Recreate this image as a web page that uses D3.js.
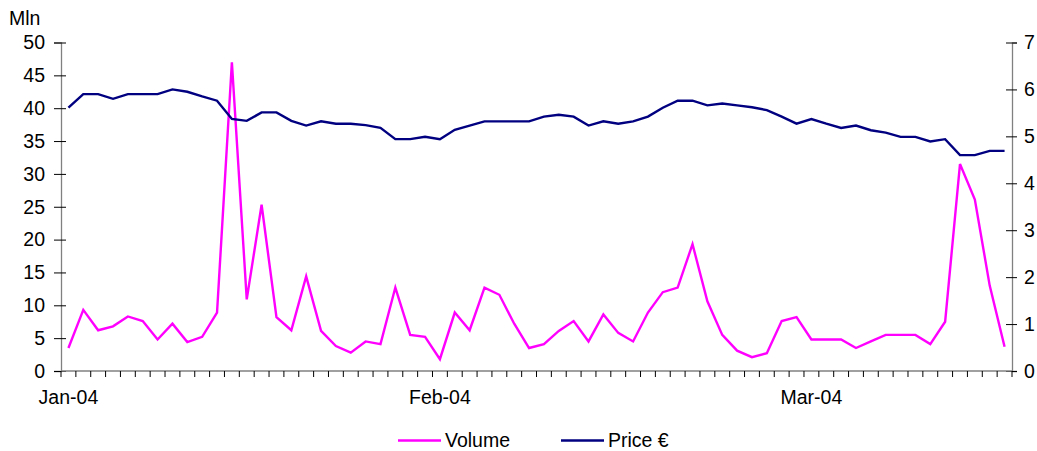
<!DOCTYPE html>
<html>
<head>
<meta charset="utf-8">
<script src="https://cdn.jsdelivr.net/npm/d3@7/dist/d3.min.js"></script>
<style>
  html, body { margin: 0; padding: 0; background: #fff; }
  svg { display: block; font-family: "Liberation Sans", Arial, sans-serif; }
</style>
</head>
<body>
<svg id="chart" width="1037" height="451"></svg>
<script>
// Daily trading volume (Mln shares), Jan–Mar 2004
const volume = [
  3.5, 9.3, 6.2, 6.8, 8.3, 7.6, 4.8, 7.2, 4.4, 5.2,
  8.9, 47.0, 10.9, 25.3, 8.2, 6.2, 14.4, 6.1, 3.8, 2.8,
  4.5, 4.1, 12.7, 5.5, 5.2, 1.8, 8.9, 6.2, 12.7, 11.6,
  7.2, 3.5, 4.1, 6.1, 7.6, 4.5, 8.6, 5.8, 4.5, 8.9,
  12.0, 12.7, 19.3, 10.6, 5.5, 3.1, 2.1, 2.7, 7.6, 8.2,
  4.8, 4.8, 4.8, 3.5, 4.5, 5.5, 5.5, 5.5, 4.1, 7.5,
  31.5, 26.1, 13.0, 3.7
];

// Closing price (€)
const price = [
  5.61, 5.90, 5.90, 5.80, 5.90, 5.90, 5.90, 6.00, 5.95, 5.85,
  5.76, 5.37, 5.33, 5.51, 5.51, 5.33, 5.23, 5.32, 5.27, 5.27,
  5.24, 5.18, 4.94, 4.94, 4.99, 4.94, 5.14, 5.23, 5.32, 5.32,
  5.32, 5.32, 5.42, 5.46, 5.42, 5.23, 5.32, 5.27, 5.32, 5.42,
  5.61, 5.76, 5.76, 5.66, 5.70, 5.66, 5.62, 5.56, 5.42, 5.27,
  5.37, 5.27, 5.18, 5.23, 5.13, 5.08, 4.99, 4.99, 4.89, 4.94,
  4.60, 4.60, 4.69, 4.69
];

// Month labels and the trading-day index each one sits on
const monthLabels = ["Jan-04", "Feb-04", "Mar-04"];
const monthIndex = [0, 25, 50];

const leftTicks = [0, 5, 10, 15, 20, 25, 30, 35, 40, 45, 50];
const rightTicks = [0, 1, 2, 3, 4, 5, 6, 7];

const seriesNames = ["Volume", "Price €"];
const seriesColors = ["#FF00FF", "#000080"];

const svg = d3.select("#chart");
const plot = { left: 61, right: 1012, top: 42.5, bottom: 371 };
const fontSize = 19.5;
const fontFamily = "Liberation Sans, Arial, sans-serif";
const intFmt = d3.format("d");

const x = d3.scaleBand()
  .domain(d3.range(volume.length))
  .range([plot.left, plot.right])
  .paddingInner(0).paddingOuter(0);

const yL = d3.scaleLinear().domain([0, 50]).range([plot.bottom, plot.top]);
const yR = d3.scaleLinear().domain([0, 7]).range([plot.bottom, plot.top]);

const axisColor = "#808080";

// Left value axis
const gL = svg.append("g").attr("transform", `translate(${plot.left},0)`)
  .call(d3.axisLeft(yL).tickValues(leftTicks).tickFormat(intFmt)
    .tickSize(7).tickPadding(9));
gL.select(".domain").attr("stroke", axisColor).attr("stroke-width", 1.3);
gL.selectAll(".tick line").attr("stroke", "#000").attr("x2", -7)
  .clone().attr("x2", 5);
gL.selectAll(".tick text").attr("font-size", fontSize).attr("fill", "#000")
  .attr("font-family", fontFamily);

// Right value axis
const gR = svg.append("g").attr("transform", `translate(${plot.right},0)`)
  .call(d3.axisRight(yR).tickValues(rightTicks).tickFormat(intFmt)
    .tickSize(5).tickPadding(7));
gR.select(".domain").attr("stroke", axisColor).attr("stroke-width", 1.3);
gR.selectAll(".tick line").attr("stroke", "#000").clone().attr("x2", -6);
gR.selectAll(".tick text").attr("font-size", fontSize).attr("fill", "#000")
  .attr("font-family", fontFamily);

// Category axis: tick marks between trading days
const boundaries = x.domain().map(i => x(i)).concat([plot.right]);
svg.append("line")
  .attr("x1", plot.left).attr("x2", plot.right)
  .attr("y1", plot.bottom).attr("y2", plot.bottom)
  .attr("stroke", axisColor).attr("stroke-width", 1.3);
svg.append("g").selectAll("line").data(boundaries).join("line")
  .attr("x1", d => d).attr("x2", d => d)
  .attr("y1", plot.bottom).attr("y2", plot.bottom + 6)
  .attr("stroke", "#000").attr("stroke-width", 1);

svg.append("g").selectAll("text").data(monthLabels).join("text")
  .attr("x", (d, i) => x(monthIndex[i]) + x.bandwidth() / 2)
  .attr("y", 404)
  .attr("text-anchor", "middle")
  .attr("font-size", fontSize)
  .text(d => d);

// Unit label for the left axis
svg.append("text").attr("x", 9).attr("y", 25)
  .attr("font-size", fontSize).text("Mln");

const cx = i => x(i) + x.bandwidth() / 2;

// Volume line (left axis)
svg.append("path").datum(volume)
  .attr("fill", "none").attr("stroke", seriesColors[0])
  .attr("stroke-width", 2.4).attr("stroke-linejoin", "miter")
  .attr("d", d3.line().x((d, i) => cx(i)).y(d => yL(d)));

// Price line (right axis)
svg.append("path").datum(price)
  .attr("fill", "none").attr("stroke", seriesColors[1])
  .attr("stroke-width", 2.4).attr("stroke-linejoin", "miter")
  .attr("d", d3.line().x((d, i) => cx(i)).y(d => yR(d)));

// Legend
const legendItems = [
  { name: seriesNames[0], color: seriesColors[0], x0: 398 },
  { name: seriesNames[1], color: seriesColors[1], x0: 561 }
];
const lg = svg.append("g");
legendItems.forEach(it => {
  lg.append("line").attr("x1", it.x0).attr("x2", it.x0 + 43)
    .attr("y1", 440.5).attr("y2", 440.5)
    .attr("stroke", it.color).attr("stroke-width", 2.4);
  lg.append("text").attr("x", it.x0 + 47).attr("y", 446.5)
    .attr("font-size", fontSize).text(it.name);
});
</script>
</body>
</html>
